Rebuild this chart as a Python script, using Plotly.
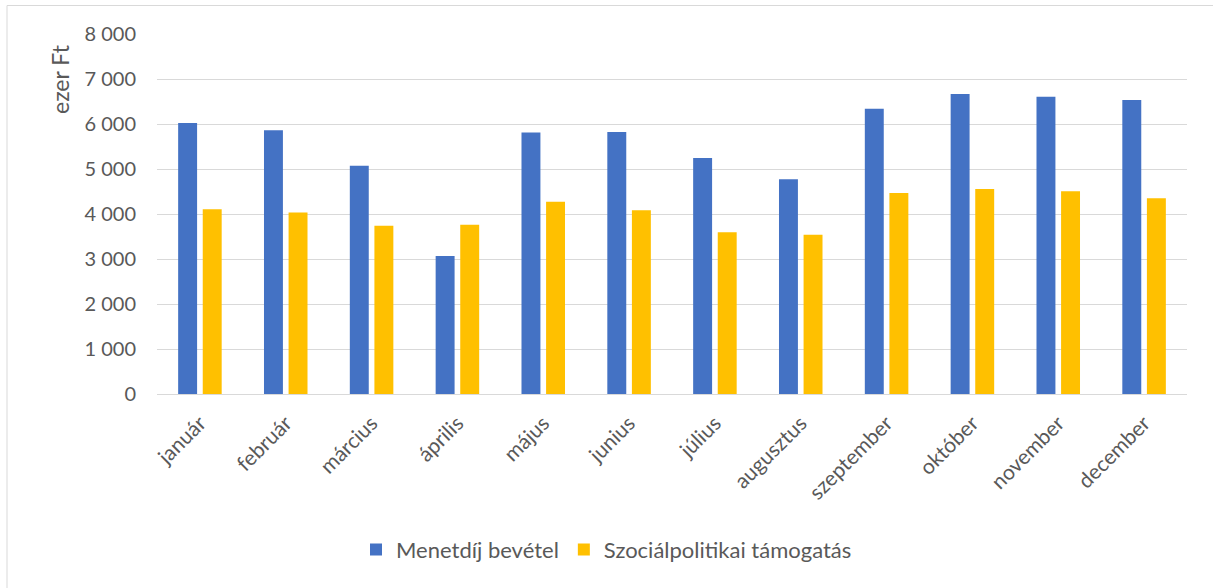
import plotly.graph_objects as go

months = ["január", "február", "március", "április", "május", "junius",
          "július", "augusztus", "szeptember", "október", "november", "december"]
menetdij = [6022, 5863, 5071, 3069, 5812, 5820, 5242, 4775, 6339, 6666, 6606, 6532]
szocial = [4108, 4033, 3737, 3759, 4270, 4085, 3596, 3537, 4464, 4553, 4508, 4352]
y_ticks = [0, 1000, 2000, 3000, 4000, 5000, 6000, 7000, 8000]

W, H = 1213, 588
L, R, T, B = 157, 26, 34, 194
pw, ph = W - L - R, H - T - B

def px_x(px):
    return (px - L) / pw

def px_y(py):
    return (H - B - py) / ph

txt = "#595959"
font = "Lato"

fig = go.Figure()
fig.add_trace(go.Bar(x=months, y=menetdij, name="Menetdíj bevétel",
                     marker=dict(color="#4472C4", line=dict(width=0))))
fig.add_trace(go.Bar(x=months, y=szocial, name="Szociálpolitikai támogatás",
                     marker=dict(color="#FFC000", line=dict(width=0))))

fig.update_layout(
    width=W, height=H,
    margin=dict(l=L, r=R, t=T, b=B),
    paper_bgcolor="white", plot_bgcolor="white",
    barmode="group", bargap=0.427, bargroupgap=0.23,
    separators=", ",
    font=dict(family=font, color=txt, size=20),
    showlegend=True,
    legend=dict(orientation="h", xref="container", yref="container",
                x=0.5, xanchor="center", y=0.065, yanchor="middle",
                font=dict(size=22, color=txt)),
    xaxis=dict(tickangle=-45, showgrid=False, showline=False, ticks="",
               ticklabelstandoff=12,
               tickfont=dict(size=21, color=txt)),
    yaxis=dict(range=[0, 8000], tickvals=y_ticks, tickformat=",d",
               showgrid=True, gridcolor="#D9D9D9", gridwidth=1,
               zeroline=True, zerolinecolor="#D9D9D9", zerolinewidth=1,
               showline=False, ticks="", ticklabelstandoff=20,
               tickfont=dict(size=20, color=txt)),
    annotations=[dict(text="ezer Ft", textangle=-90, xref="paper", yref="paper",
                      x=px_x(60), y=px_y(79), xanchor="center", yanchor="middle",
                      showarrow=False, font=dict(size=23, color=txt))],
    shapes=[dict(type="rect", xref="paper", yref="paper",
                 x0=px_x(7), x1=px_x(1220), y0=px_y(600), y1=px_y(5.5),
                 line=dict(color="#D9D9D9", width=1), layer="below")],
)

fig.write_html("out.html", config={"displayModeBar": False},
               post_script="document.body.style.margin='0';")
